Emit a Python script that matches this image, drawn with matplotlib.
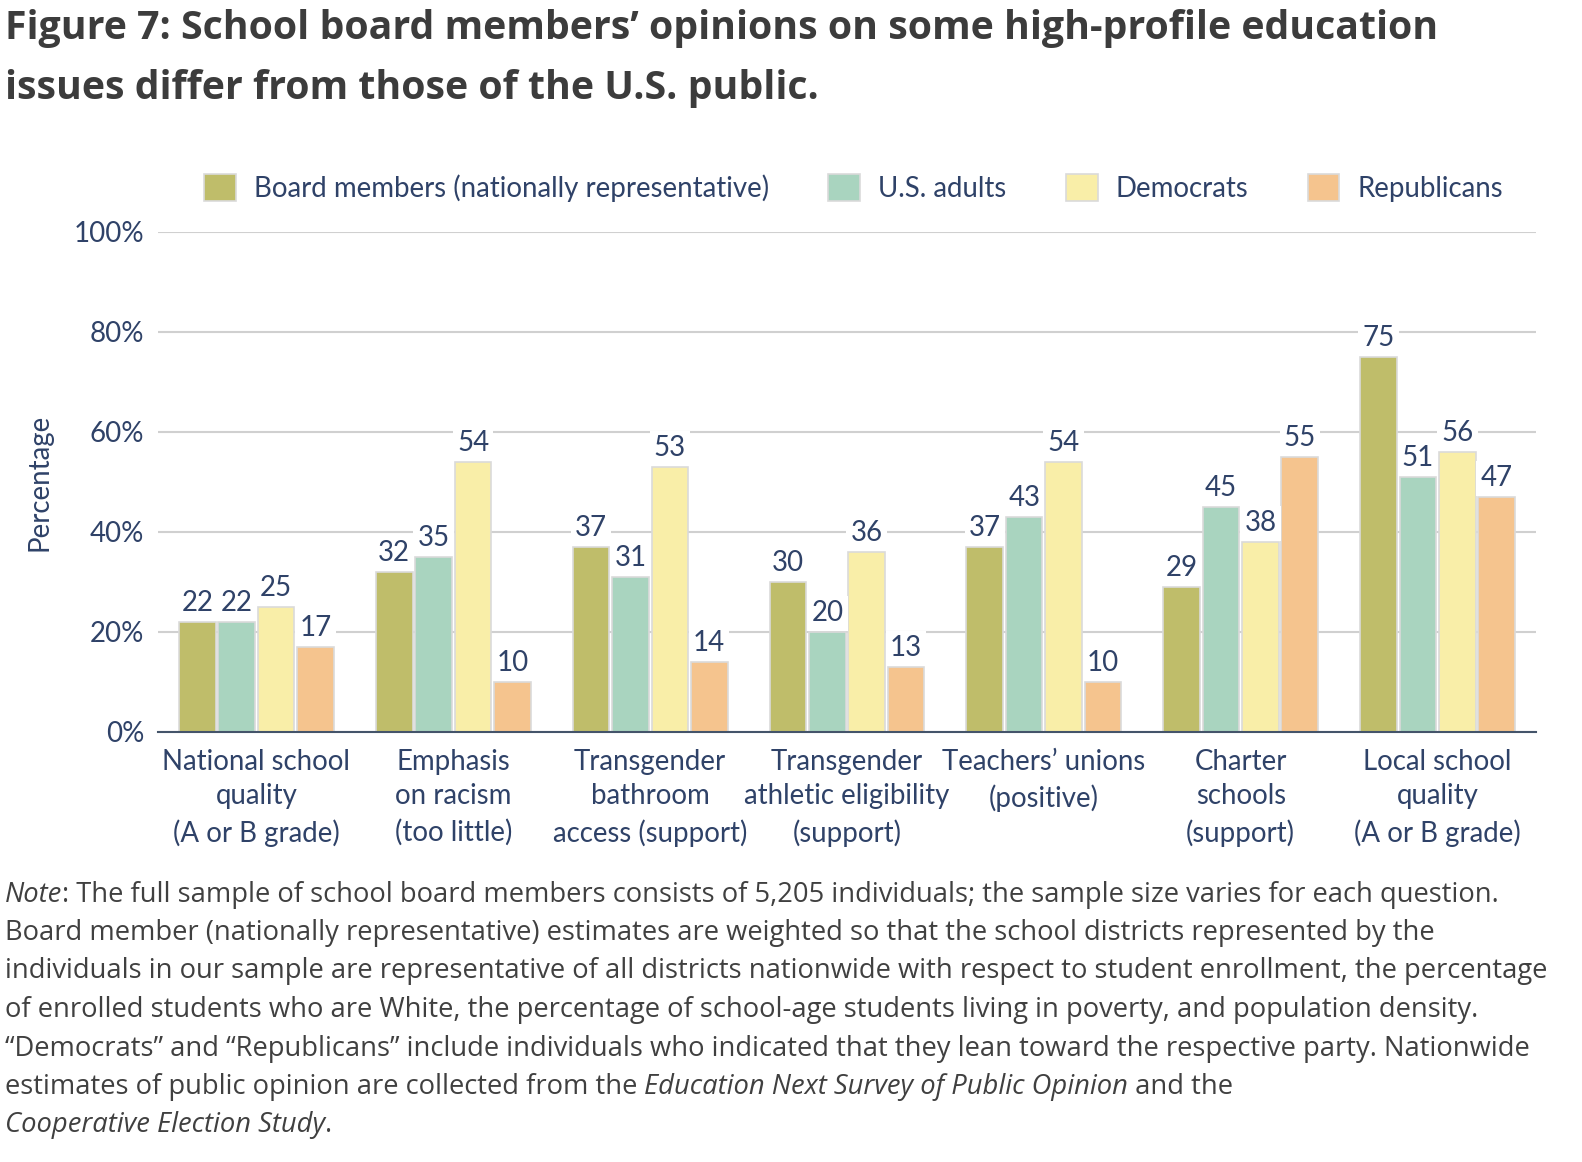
import matplotlib
matplotlib.use("Agg")
import matplotlib.pyplot as plt
from matplotlib.text import Annotation
import numpy as np

categories = [
    "National school\nquality\n(A or B grade)",
    "Emphasis\non racism\n(too little)",
    "Transgender\nbathroom\naccess (support)",
    "Transgender\nathletic eligibility\n(support)",
    "Teachers\u2019 unions\n(positive)",
    "Charter\nschools\n(support)",
    "Local school\nquality\n(A or B grade)",
]
series_names = ["Board members (nationally representative)", "U.S. adults", "Democrats", "Republicans"]
board = [22, 32, 37, 30, 37, 29, 75]
adults = [22, 35, 31, 20, 43, 45, 51]
democrats = [25, 54, 53, 36, 54, 38, 56]
republicans = [17, 10, 14, 13, 10, 55, 47]
yticks = [0, 20, 40, 60, 80, 100]
ytick_labels = ["0%", "20%", "40%", "60%", "80%", "100%"]

colors = ["#BFBD6A", "#A9D4BF", "#F9EEA8", "#F5C48E"]
navy = "#2F4268"
chart_font = "Lato"
fs = 19.9

W, H = 1582, 1162
fig = plt.figure(figsize=(W / 100, H / 100), dpi=100)
ax = fig.add_axes([158 / W, 1 - 732 / H, (1536 - 158) / W, (732 - 232) / H])

x = np.arange(len(categories))
width = 0.186
pitch = 0.2
all_series = [board, adults, democrats, republicans]
for i, (vals, col, name) in enumerate(zip(all_series, colors, series_names)):
    pos = x + (i - 1.5) * pitch
    bars = ax.bar(pos, vals, width=width, color=col, edgecolor="#DADADA", linewidth=1.2,
                  label=name, zorder=3)
    for b, v in zip(bars, vals):
        ax.annotate(str(v), (b.get_x() + b.get_width() / 2, v), xytext=(0, 4),
                    textcoords="offset points", ha="center", va="bottom",
                    fontsize=fs, color=navy, family=chart_font, zorder=5,
                    bbox=dict(boxstyle="square,pad=0.15", fc="white", ec="none"))

ax.set_xlim(-0.5, len(categories) - 0.5)
ax.set_ylim(0, 100)
ax.set_yticks(yticks)
ax.set_yticklabels(ytick_labels, family=chart_font, fontsize=fs, color=navy)
ax.set_xticks(x)
ax.set_xticklabels(categories, family=chart_font, fontsize=fs, color=navy, linespacing=1.42)
ax.tick_params(axis="y", length=0, pad=10)
ax.tick_params(axis="x", length=0, pad=12)
ax.grid(axis="y", color="#D0D0D0", linewidth=1.5, zorder=0)
ax.set_axisbelow(True)
for s in ["left", "right", "top"]:
    ax.spines[s].set_visible(False)
ax.spines["bottom"].set_color("#44546A")
ax.spines["bottom"].set_linewidth(1.5)
ax.spines["bottom"].set_zorder(4)

ax.set_ylabel("Percentage", family=chart_font, fontsize=fs, color=navy, labelpad=15)

leg = ax.legend(loc="center left", bbox_to_anchor=(204 / W, 1 - 188 / H),
                bbox_transform=fig.transFigure, ncol=4, frameon=False,
                prop=dict(family=chart_font, size=fs), handlelength=1.15, handleheight=1.15,
                handletextpad=0.65, columnspacing=2.15, borderaxespad=0, borderpad=0)
for t in leg.get_texts():
    t.set_color(navy)

# Title
title_color = "#3C3C3C"
title_fs = 28.3
fig.text(5 / W, 1 - 29 / H, "Figure 7: School board members\u2019 opinions on some high-profile education",
         family="Open Sans", weight="bold", fontsize=title_fs, color=title_color, va="center", ha="left")
fig.text(5 / W, 1 - 89 / H, "issues differ from those of the U.S. public.",
         family="Open Sans", weight="bold", fontsize=title_fs, color=title_color, va="center", ha="left")

# Note
note_lines = [
    [("Note", True), (": The full sample of school board members consists of 5,205 individuals; the sample size varies for each question.", False)],
    [("Board member (nationally representative) estimates are weighted so that the school districts represented by the", False)],
    [("individuals in our sample are representative of all districts nationwide with respect to student enrollment, the percentage", False)],
    [("of enrolled students who are White, the percentage of school-age students living in poverty, and population density.", False)],
    [("\u201cDemocrats\u201d and \u201cRepublicans\u201d include individuals who indicated that they lean toward the respective party. Nationwide", False)],
    [("estimates of public opinion are collected from the ", False), ("Education Next Survey of Public Opinion", True), (" and the", False)],
    [("Cooperative Election Study", True), (".", False)],
]
note_y = [895, 933, 971, 1010, 1049, 1087, 1125]
note_color = "#404040"
note_size = 19.7
for segs, yy in zip(note_lines, note_y):
    last = None
    for txt, it in segs:
        style = "italic" if it else "normal"
        if last is None:
            last = fig.text(5 / W, 1 - yy / H, txt, family="Open Sans", style=style,
                            fontsize=note_size, color=note_color, va="center", ha="left")
        else:
            last = fig.add_artist(Annotation(
                txt, xy=(1, 0), xycoords=last, va="bottom", ha="left",
                family="Open Sans", style=style, fontsize=note_size, color=note_color))

fig.savefig("out.png", dpi=100)
